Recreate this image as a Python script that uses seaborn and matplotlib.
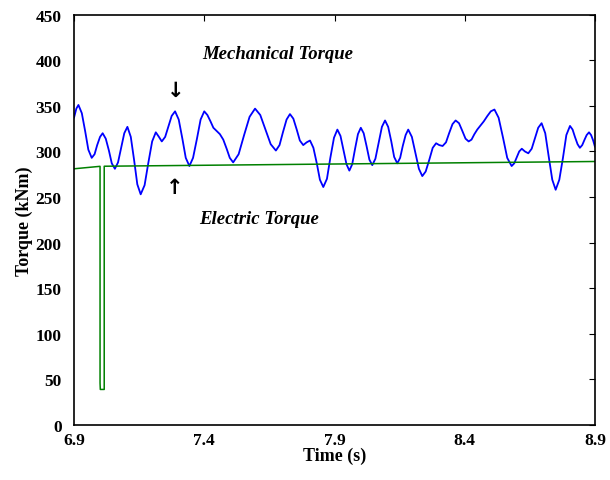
import matplotlib
matplotlib.use("Agg")
import matplotlib.pyplot as plt
import seaborn as sns
import pandas as pd

# mechanical torque (blue)
mech_time = [6.900, 6.909, 6.917, 6.930, 6.943, 6.955, 6.968, 6.979, 6.989, 7.000,
             7.010, 7.022, 7.034, 7.045, 7.057, 7.069, 7.081, 7.093, 7.105, 7.118,
             7.131, 7.143, 7.156, 7.171, 7.185, 7.200, 7.214, 7.226, 7.237, 7.250,
             7.263, 7.275, 7.288, 7.302, 7.316, 7.329, 7.343, 7.357, 7.372, 7.386,
             7.400, 7.412, 7.424, 7.435, 7.460, 7.473, 7.486, 7.498, 7.511, 7.532,
             7.553, 7.574, 7.595, 7.615, 7.635, 7.655, 7.675, 7.689, 7.702, 7.716,
             7.729, 7.742, 7.755, 7.767, 7.780, 7.793, 7.806, 7.819, 7.832, 7.844,
             7.857, 7.871, 7.884, 7.898, 7.911, 7.923, 7.934, 7.946, 7.957, 7.968,
             7.979, 7.990, 8.001, 8.012, 8.023, 8.034, 8.045, 8.057, 8.070, 8.082,
             8.094, 8.106, 8.118, 8.129, 8.141, 8.152, 8.162, 8.173, 8.183, 8.197,
             8.210, 8.224, 8.237, 8.250, 8.264, 8.277, 8.290, 8.302, 8.315, 8.328,
             8.340, 8.353, 8.365, 8.378, 8.390, 8.403, 8.415, 8.426, 8.437, 8.448,
             8.459, 8.473, 8.487, 8.500, 8.514, 8.530, 8.547, 8.563, 8.580, 8.590,
             8.600, 8.609, 8.619, 8.631, 8.644, 8.657, 8.670, 8.682, 8.695, 8.709,
             8.722, 8.736, 8.749, 8.763, 8.777, 8.790, 8.804, 8.814, 8.823, 8.833,
             8.842, 8.851, 8.860, 8.868, 8.877, 8.885, 8.893, 8.900]
mech_torque = [337, 347, 351, 342, 322, 302, 293, 297, 307, 316,
               320, 314, 301, 287, 281, 288, 304, 320, 327, 316,
               290, 264, 253, 263, 287, 311, 321, 316, 311, 316,
               328, 339, 344, 335, 314, 293, 284, 293, 314, 335,
               344, 340, 333, 326, 319, 313, 303, 293, 288, 297,
               318, 338, 347, 340, 324, 308, 301, 307, 321, 335,
               341, 336, 324, 312, 307, 310, 312, 304, 287, 269,
               261, 270, 293, 315, 324, 317, 302, 286, 279, 286,
               303, 319, 326, 320, 306, 291, 285, 292, 310, 327,
               334, 327, 311, 294, 287, 293, 306, 318, 324, 316,
               299, 281, 273, 278, 291, 304, 309, 307, 306, 310,
               320, 330, 334, 331, 323, 314, 311, 313, 319, 324,
               328, 333, 339, 344, 346, 337, 315, 293, 284, 287,
               294, 300, 303, 300, 298, 303, 315, 326, 331, 320,
               295, 269, 258, 269, 293, 318, 328, 324, 316, 308,
               304, 307, 313, 318, 321, 318, 312, 305]

# electric torque (green)
elec_time = [6.900, 7.000, 7.000, 7.001, 7.016, 7.016, 8.900]
elec_torque = [281, 283.7, 46, 39, 39, 283.8, 289]

mech = pd.DataFrame({"t": mech_time, "T": mech_torque})
elec = pd.DataFrame({"t": elec_time, "T": elec_torque})

sns.set_style("white")
plt.rcParams["font.family"] = ["Liberation Serif", "DejaVu Sans"]
plt.rcParams["font.weight"] = "bold"
plt.rcParams["text.color"] = "black"
plt.rcParams["axes.labelcolor"] = "black"

fig = plt.figure(figsize=(6.1, 4.81), dpi=100)
ax = fig.add_axes([74 / 610, 55 / 481, 521 / 610, 410.3 / 481])

sns.lineplot(data=mech, x="t", y="T", ax=ax, color="#0000ff", lw=1.3,
             estimator=None, sort=False)
sns.lineplot(data=elec, x="t", y="T", ax=ax, color="#008000", lw=1.1,
             estimator=None, sort=False)

ax.set_xlim(6.9, 8.9)
ax.set_ylim(0, 450)
ax.set_xticks([6.9, 7.4, 7.9, 8.4, 8.9])
ax.set_xticklabels(["6.9", "7.4", "7.9", "8.4", "8.9"])
ax.set_yticks(range(0, 451, 50))
ax.tick_params(direction="in", length=4, width=0.8, top=True, right=True,
               labelsize=12.5, colors="black")
ax.tick_params(axis="y", pad=9)
ax.tick_params(axis="x", pad=5)
for lab in ax.get_xticklabels() + ax.get_yticklabels():
    lab.set_fontweight("bold")
for s in ax.spines.values():
    s.set_color("black")
    s.set_linewidth(1.2)

ax.set_xlabel("Time (s)", fontsize=13, fontweight="bold", labelpad=-1)
ax.set_ylabel("Torque (kNm)", fontsize=13, fontweight="bold", labelpad=2)

ax.text(7.683, 407, "Mechanical Torque", fontsize=13.5, fontweight="bold",
        style="italic", ha="center", va="center")
ax.text(7.609, 226, "Electric Torque", fontsize=13.5, fontweight="bold",
        style="italic", ha="center", va="center")
ax.text(7.290, 368, "\u2193", fontsize=15, ha="center", va="center",
        family=["DejaVu Sans"])
ax.text(7.285, 261, "\u2191", fontsize=15, ha="center", va="center",
        family=["DejaVu Sans"])

fig.savefig("out.png", dpi=100)
